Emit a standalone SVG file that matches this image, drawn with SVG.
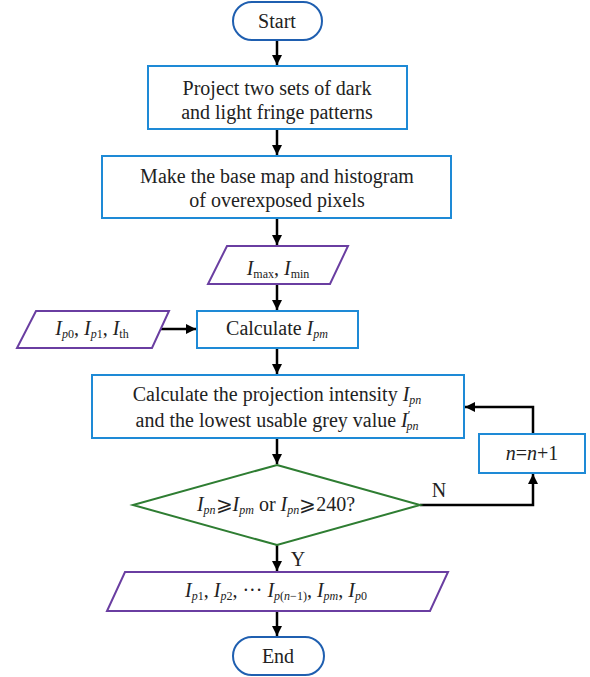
<svg xmlns="http://www.w3.org/2000/svg" width="590" height="677" viewBox="0 0 590 677">
<defs>
<marker id="arr" viewBox="0 0 10 10" refX="10" refY="5" markerWidth="10" markerHeight="10" markerUnits="userSpaceOnUse" orient="auto">
<path d="M0,0 L10,5 L0,10 Z" fill="#000"/>
</marker>
<style>
.t{font-family:"Liberation Serif","DejaVu Serif","Times New Roman",serif;font-size:20px;fill:#222;text-anchor:middle}
.s{font-size:12px}
.i{font-style:italic}
.term{fill:#fff;stroke:#1f5fb0;stroke-width:2}
.proc{fill:#fff;stroke:#1e8ad6;stroke-width:2}
.io{fill:#fff;stroke:#6a3ea1;stroke-width:2}
.dec{fill:#fff;stroke:#2e7d32;stroke-width:2}
.c{fill:none;stroke:#000;stroke-width:2.5}
</style>
</defs>
<rect width="590" height="677" fill="#fff"/>

<g id="connectors">
<line class="c" x1="277" y1="40" x2="277" y2="65" marker-end="url(#arr)"/>
<line class="c" x1="277" y1="129" x2="277" y2="155" marker-end="url(#arr)"/>
<line class="c" x1="277" y1="218" x2="277" y2="245" marker-end="url(#arr)"/>
<line class="c" x1="277" y1="284" x2="277" y2="310" marker-end="url(#arr)"/>
<line class="c" x1="160" y1="329" x2="196" y2="329" marker-end="url(#arr)"/>
<line class="c" x1="277" y1="348" x2="277" y2="374" marker-end="url(#arr)"/>
<line class="c" x1="277" y1="438" x2="277" y2="464" marker-end="url(#arr)"/>
<polyline class="c" points="420,505 533,505 533,474" marker-end="url(#arr)"/>
<polyline class="c" points="533,434 533,407 465,407" marker-end="url(#arr)"/>
<line class="c" x1="277" y1="545" x2="277" y2="571" marker-end="url(#arr)"/>
<line class="c" x1="277" y1="611" x2="277" y2="636" marker-end="url(#arr)"/>
<text class="t" x="439" y="497">N</text>
<text class="t" x="298" y="566">Y</text>
</g>

<g id="start">
<rect class="term" x="233" y="2" width="89" height="38" rx="19"/>
<text class="t" x="277" y="28">Start</text>
</g>

<g id="project">
<rect class="proc" x="148" y="66" width="259" height="63"/>
<text class="t" x="277" y="95">Project two sets of dark</text>
<text class="t" x="277" y="119">and light fringe patterns</text>
</g>

<g id="basemap">
<rect class="proc" x="102" y="156" width="349" height="62"/>
<text class="t" x="277" y="183">Make the base map and histogram</text>
<text class="t" x="277" y="207">of overexposed pixels</text>
</g>

<g id="imaxmin">
<polygon class="io" points="227,246 348,246 330,284 208,284"/>
<text class="t" x="278" y="275"><tspan class="i">I</tspan><tspan class="s" dy="3">max</tspan><tspan dy="-3">,  </tspan><tspan class="i">I</tspan><tspan class="s" dy="3">min</tspan></text>
</g>

<g id="ip0">
<polygon class="io" points="36,311 169,311 152,348 17,348"/>
<text class="t" x="92" y="335"><tspan class="i">I</tspan><tspan class="s" dy="3"><tspan class="i">p</tspan>0</tspan><tspan dy="-3">, </tspan><tspan class="i">I</tspan><tspan class="s" dy="3"><tspan class="i">p</tspan>1</tspan><tspan dy="-3">, </tspan><tspan class="i">I</tspan><tspan class="s" dy="3">th</tspan></text>
</g>

<g id="calcpm">
<rect class="proc" x="197" y="311" width="161" height="37"/>
<text class="t" x="277" y="335">Calculate <tspan class="i">I</tspan><tspan class="s i" dy="3">pm</tspan></text>
</g>

<g id="calcpn">
<rect class="proc" x="92" y="375" width="372" height="63"/>
<text class="t" x="277" y="401">Calculate the projection intensity <tspan class="i">I</tspan><tspan class="s i" dy="3">pn</tspan></text>
<text class="t" x="277" y="427">and the lowest usable grey value <tspan class="i">I</tspan><tspan class="s" dy="-8">′</tspan><tspan class="s i" dx="-4" dy="11">pn</tspan></text>
</g>

<g id="decision">
<polygon class="dec" points="277,465 420,505 277,545 133,505"/>
<text class="t" x="276" y="511"><tspan class="i">I</tspan><tspan class="s i" dy="3">pn</tspan><tspan dy="-3">⩾</tspan><tspan class="i">I</tspan><tspan class="s i" dy="3">pm</tspan><tspan dy="-3"> or </tspan><tspan class="i">I</tspan><tspan class="s i" dy="3">pn</tspan><tspan dy="-3">⩾240?</tspan></text>
</g>

<g id="increment">
<rect class="proc" x="479" y="434" width="106" height="39"/>
<text class="t" x="532" y="460"><tspan class="i">n</tspan>=<tspan class="i">n</tspan>+1</text>
</g>

<g id="output">
<polygon class="io" points="125,572 448,572 430,611 107,611"/>
<text class="t" x="276" y="597"><tspan class="i">I</tspan><tspan class="s" dy="3"><tspan class="i">p</tspan>1</tspan><tspan dy="-3">, </tspan><tspan class="i">I</tspan><tspan class="s" dy="3"><tspan class="i">p</tspan>2</tspan><tspan dy="-3">, ··· </tspan><tspan class="i">I</tspan><tspan class="s" dy="3"><tspan class="i">p</tspan>(<tspan class="i">n</tspan>−1)</tspan><tspan dy="-3">, </tspan><tspan class="i">I</tspan><tspan class="s i" dy="3">pm</tspan><tspan dy="-3">, </tspan><tspan class="i">I</tspan><tspan class="s" dy="3"><tspan class="i">p</tspan>0</tspan></text>
</g>

<g id="end">
<rect class="term" x="233" y="637" width="91" height="38" rx="19"/>
<text class="t" x="278" y="663">End</text>
</g>
</svg>
